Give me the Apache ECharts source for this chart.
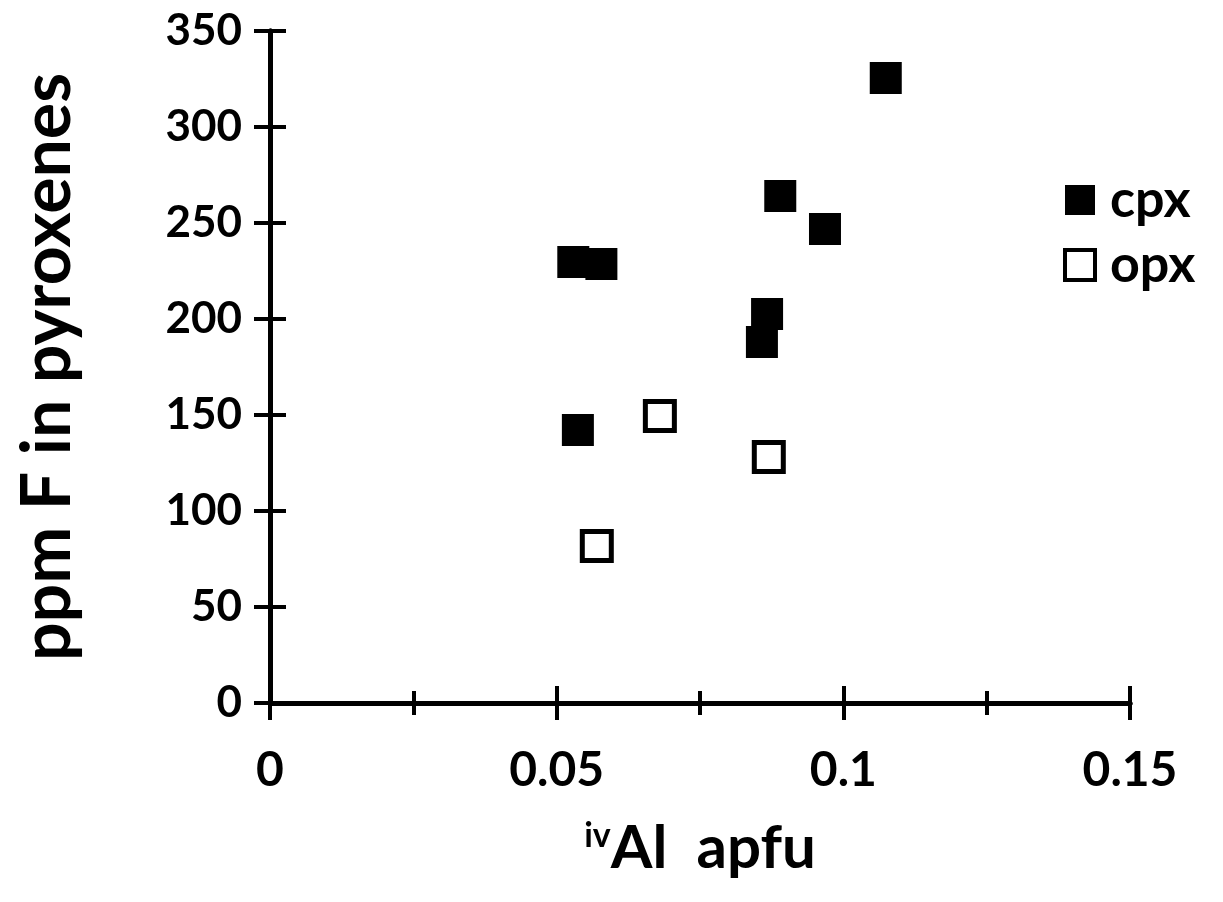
<!DOCTYPE html>
<html>
<head>
<meta charset="utf-8">
<script src="https://cdn.jsdelivr.net/npm/echarts@6/dist/echarts.min.js"></script>
<style>
  html, body { margin: 0; padding: 0; background: #fff; }
  #main { width: 1223px; height: 902px; }
</style>
</head>
<body>
<div id="main"></div>
<script>
// data
const cpxAl = [0.0529, 0.0578, 0.0537, 0.0867, 0.0858, 0.089, 0.0968, 0.1074];
const cpxF = [229.7, 228.6, 142.2, 202.6, 188.0, 264.1, 246.9, 325.5];
const opxAl = [0.068, 0.057, 0.087];
const opxF = [149.5, 81.8, 128.1];
const seriesNames = ["cpx", "opx"];

const font = "Lato";
const pair = (xs, ys) => xs.map((x, i) => [x, ys[i]]);

const chart = echarts.init(document.getElementById("main"));

// two copies of each axis so the ticks cross the axis line
const xBase = {
  type: "value",
  min: 0,
  max: 0.15,
  interval: 0.05,
  splitLine: { show: false },
  axisLine: { show: true, lineStyle: { color: "#000", width: 5 } },
  axisTick: { show: true, length: 17, lineStyle: { color: "#000", width: 4 } },
  minorTick: { show: true, splitNumber: 2, length: 12, lineStyle: { color: "#000", width: 4 } },
};
const yBase = {
  type: "value",
  min: 0,
  max: 350,
  interval: 50,
  splitLine: { show: false },
  axisLine: { show: true, lineStyle: { color: "#000", width: 5 } },
  axisTick: { show: true, length: 16, lineStyle: { color: "#000", width: 4 } },
};

const option = {
  backgroundColor: "#fff",
  animation: false,
  textStyle: { fontFamily: font },
  grid: { left: 270, right: 93, top: 31, bottom: 199, containLabel: false },
  legend: {
    orient: "vertical",
    left: 1058,
    top: 169,
    itemGap: 13,
    itemWidth: 30,
    itemHeight: 30,
    textStyle: { fontFamily: font, fontWeight: "bold", fontSize: 52, color: "#000", padding: [0, 0, 0, 10] },
    data: [
      { name: seriesNames[0], icon: "rect", itemStyle: { color: "#000", opacity: 1 } },
      { name: seriesNames[1], icon: "rect", itemStyle: { color: "#fff", borderColor: "#000", borderWidth: 4, opacity: 1 } },
    ],
  },
  xAxis: [
    Object.assign({}, xBase, {
      axisLabel: {
        margin: 44,
        fontFamily: font,
        fontWeight: "bold",
        fontSize: 48,
        color: "#000",
        formatter: (v) => String(+v.toFixed(3)),
      },
      name: "{sup|iv}{main|Al  apfu}",
      nameLocation: "middle",
      nameGap: 116,
      nameTextStyle: {
        rich: {
          sup: { fontFamily: font, fontWeight: "bold", fontSize: 34, color: "#000", verticalAlign: "top", padding: [0, 0, 26, 0] },
          main: { fontFamily: font, fontWeight: "bold", fontSize: 60, color: "#000" },
        },
      },
    }),
    Object.assign({}, xBase, {
      position: "bottom",
      axisTick: Object.assign({}, xBase.axisTick, { inside: true }),
      minorTick: Object.assign({}, xBase.minorTick),
      axisLabel: { show: false },
    }),
  ],
  yAxis: [
    Object.assign({}, yBase, {
      axisLabel: {
        margin: 28,
        fontFamily: font,
        fontWeight: "bold",
        fontSize: 44,
        color: "#000",
      },
      name: "ppm F in pyroxenes",
      nameLocation: "middle",
      nameGap: 188,
      nameRotate: 90,
      nameTextStyle: { fontFamily: font, fontWeight: "bold", fontSize: 68, color: "#000" },
    }),
    Object.assign({}, yBase, {
      position: "left",
      axisTick: Object.assign({}, yBase.axisTick, { inside: true }),
      axisLabel: { show: false },
    }),
  ],
  series: [
    {
      name: seriesNames[0],
      type: "scatter",
      symbol: "rect",
      symbolSize: 32,
      itemStyle: { color: "#000", opacity: 1 },
      data: pair(cpxAl, cpxF),
    },
    {
      name: seriesNames[1],
      type: "scatter",
      symbol: "rect",
      symbolSize: 29,
      itemStyle: { color: "#fff", borderColor: "#000", borderWidth: 5, opacity: 1 },
      data: pair(opxAl, opxF),
    },
  ],
};

chart.setOption(option);
</script>
</body>
</html>
